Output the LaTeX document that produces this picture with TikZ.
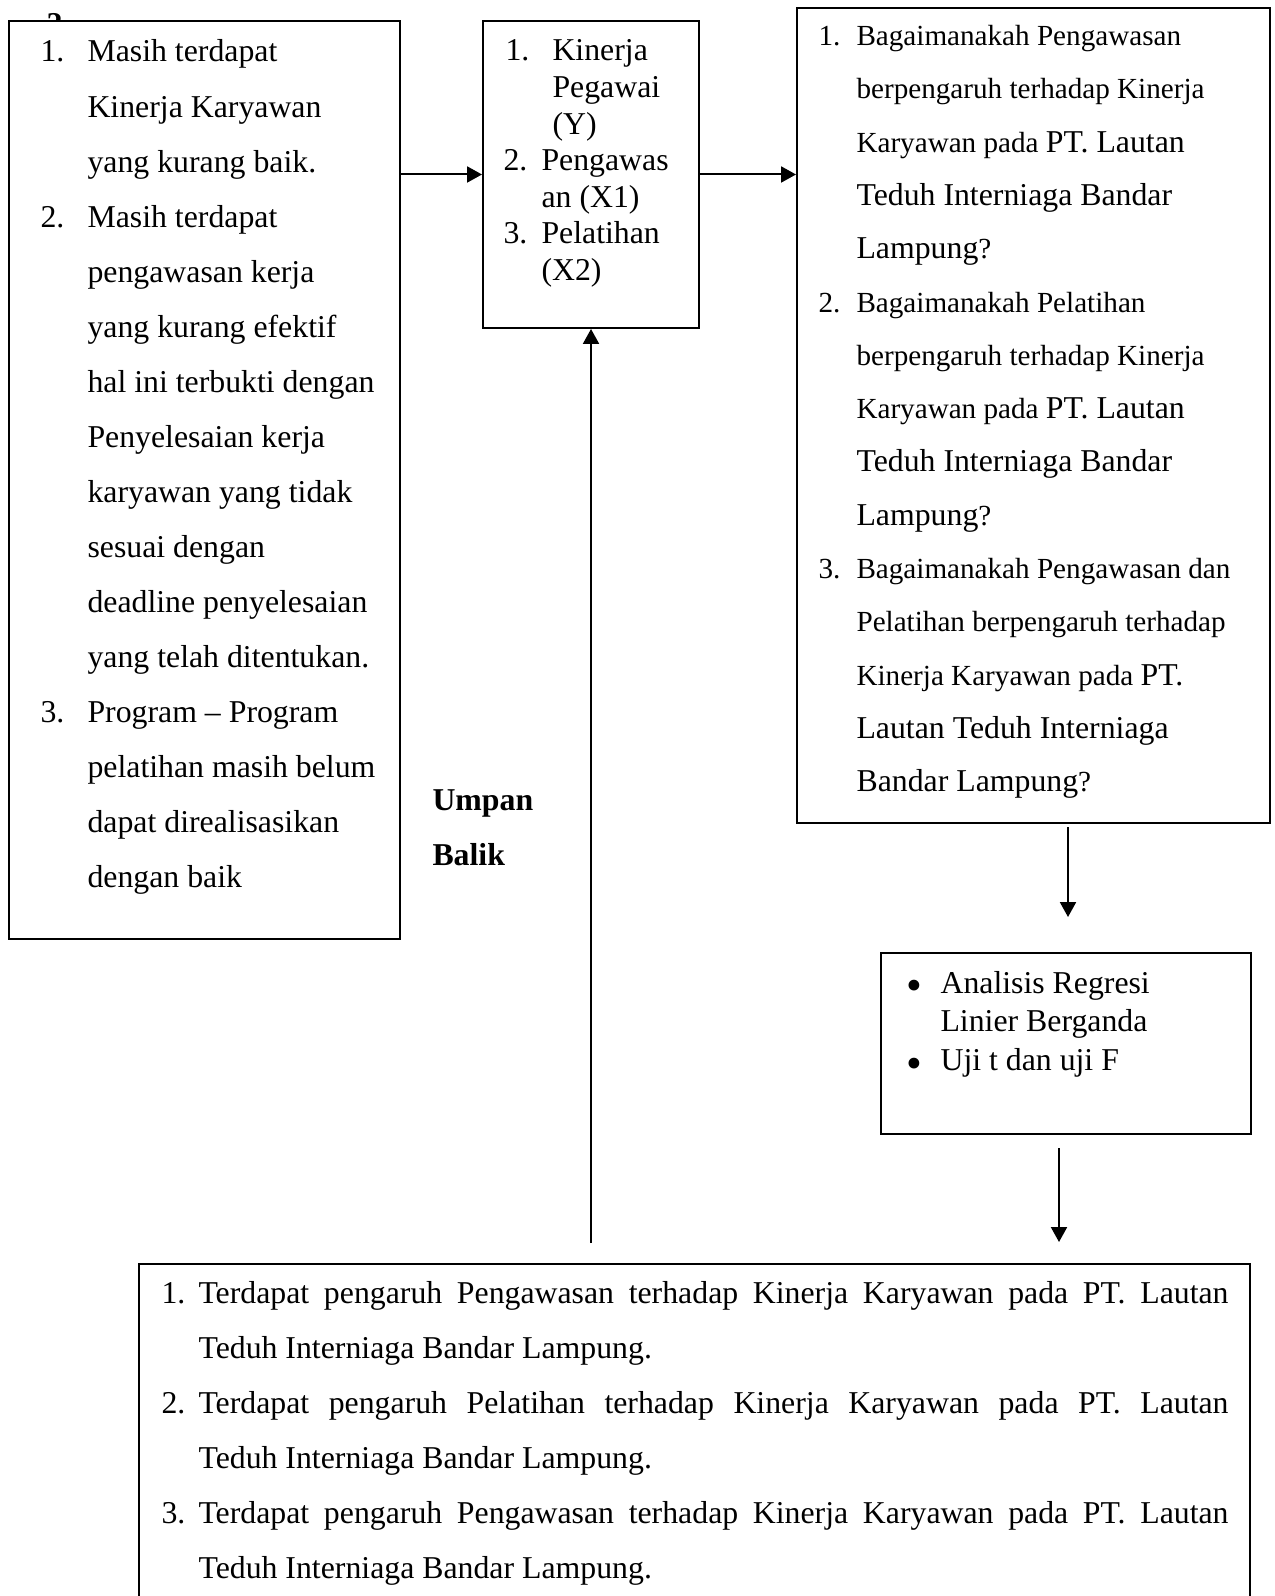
\documentclass[tikz,border=0pt]{standalone}
\usepackage{fontspec}
\setmainfont{Liberation Serif}
\usetikzlibrary{arrows.meta}
\newdimen\pxu \pxu=0.3774pt
\newlength{\nomorlebar}
\newcommand{\nomor}[1]{\makebox[\nomorlebar][l]{#1}}
\newcommand{\sambung}{\hspace*{\nomorlebar}}
\newcommand{\besar}{\fontsize{12}{20.12}\selectfont}
\newcommand{\titik}{\raisebox{-3pt}{\fontsize{17}{17}\selectfont •}}

\begin{document}
\begin{tikzpicture}[x=0.3774pt, y=-0.3774pt,
        every node/.style={font=\fontsize{12}{13.8}\selectfont},
        kotak/.style={draw, line width=0.75pt, fill=white, anchor=north west, inner sep=0pt},
        isi/.style={anchor=base west, inner sep=0pt},
        panah/.style={line width=0.75pt, -{Triangle[length=5.6pt, width=6pt]}}]

    % Batas gambar
    \useasboundingbox (0,0) rectangle (1274,1596);

    % Sisa angka di belakang kotak masalah
    \node[isi, font=\fontsize{12}{13.8}\selectfont\bfseries] (dua) at (46,35) {2};

    % Kotak
    \node[kotak, minimum width=391\pxu, minimum height=918\pxu] (masalah) at (8,20) {};
    \node[kotak, minimum width=216\pxu, minimum height=307\pxu] (variabel) at (482,20) {};
    \node[kotak, minimum width=473\pxu, minimum height=815\pxu] (rumusan) at (796,7) {};
    \node[kotak, minimum width=370\pxu, minimum height=181\pxu] (analisis) at (880,952) {};
    \node[kotak, minimum width=1111\pxu, minimum height=360\pxu] (hasil) at (138,1263) {};

    % Isi kotak masalah
    \node[isi] (tmasalah) at (40,62) {\parbox[t]{360\pxu}{\fontsize{12}{20.78}\selectfont\setlength{\nomorlebar}{47\pxu}%
        \nomor{1.}Masih terdapat\\
        \sambung Kinerja Karyawan\\
        \sambung yang kurang baik.\\
        \nomor{2.}Masih terdapat\\
        \sambung pengawasan kerja\\
        \sambung yang kurang efektif\\
        \sambung hal ini terbukti dengan\\
        \sambung Penyelesaian kerja\\
        \sambung karyawan yang tidak\\
        \sambung sesuai dengan\\
        \sambung deadline penyelesaian\\
        \sambung yang telah ditentukan.\\
        \nomor{3.}Program – Program\\
        \sambung pelatihan masih belum\\
        \sambung dapat direalisasikan\\
        \sambung dengan baik}};

    % Isi kotak variabel
    \node[isi] (tvariabel) at (503,61) {\parbox[t]{190\pxu}{\setlength{\nomorlebar}{38\pxu}%
        \hspace*{2\pxu}\makebox[47\pxu][l]{1.}Kinerja\\
        \hspace*{49\pxu}Pegawai\\
        \hspace*{49\pxu}(Y)\\
        \nomor{2.}Pengawas\\
        \sambung an (X1)\\
        \nomor{3.}Pelatihan\\
        \sambung (X2)}};

    % Isi kotak rumusan masalah
    \node[isi] (trumusan) at (818,45.5) {\parbox[t]{450\pxu}{\fontsize{11}{20.12}\selectfont\setlength{\nomorlebar}{38\pxu}%
        \nomor{1.}Bagaimanakah Pengawasan\\
        \sambung berpengaruh terhadap Kinerja\\
        \sambung Karyawan pada {\besar PT. Lautan}\\
        \sambung {\besar Teduh Interniaga Bandar}\\
        \sambung {\besar Lampung}?\\
        \nomor{2.}Bagaimanakah Pelatihan\\
        \sambung berpengaruh terhadap Kinerja\\
        \sambung Karyawan pada {\besar PT. Lautan}\\
        \sambung {\besar Teduh Interniaga Bandar}\\
        \sambung {\besar Lampung}?\\
        \nomor{3.}Bagaimanakah Pengawasan dan\\
        \sambung Pelatihan berpengaruh terhadap\\
        \sambung Kinerja Karyawan pada {\besar PT.}\\
        \sambung {\besar Lautan Teduh Interniaga}\\
        \sambung {\besar Bandar Lampung}?}};

    % Isi kotak analisis
    \node[isi] (tanalisis) at (906,993) {\parbox[t]{330\pxu}{\fontsize{12}{14.34}\selectfont\setlength{\nomorlebar}{34\pxu}%
        \nomor{\titik}Analisis Regresi\\
        \sambung Linier Berganda\\[0.75pt]
        \nomor{\titik}Uji t dan uji F}};

    % Isi kotak hasil
    \node[isi] (thasil) at (161,1303) {\parbox[t]{1080\pxu}{\fontsize{12}{20.76}\selectfont\setlength{\nomorlebar}{37\pxu}%
        \nomor{1.}\makebox[1030\pxu][s]{Terdapat pengaruh Pengawasan terhadap Kinerja Karyawan pada PT. Lautan}\\
        \sambung Teduh Interniaga Bandar Lampung.\\
        \nomor{2.}\makebox[1030\pxu][s]{Terdapat pengaruh Pelatihan terhadap Kinerja Karyawan pada PT. Lautan}\\
        \sambung Teduh Interniaga Bandar Lampung.\\
        \nomor{3.}\makebox[1030\pxu][s]{Terdapat pengaruh Pengawasan terhadap Kinerja Karyawan pada PT. Lautan}\\
        \sambung Teduh Interniaga Bandar Lampung.}};

    % Label umpan balik
    \node[isi] (umpan) at (432,810) {\parbox[t]{120\pxu}{\fontsize{12}{20.76}\selectfont\bfseries Umpan\\Balik}};

    % Panah
    \coordinate (r1) at (1068,827);
    \coordinate (r2) at (1068,917);
    \coordinate (a1) at (1059,1148);
    \coordinate (a2) at (1059,1242);
    \coordinate (balik) at (591,1243);
    \draw[panah] (masalah.east |- variabel.west) -- (variabel.west);
    \draw[panah] (variabel.east) -- (variabel.east -| rumusan.west);
    \draw[panah] (r1) -- (r2);
    \draw[panah] (a1) -- (a2);
    \draw[panah] (balik) -- (balik |- variabel.south);

\end{tikzpicture}
\end{document}
